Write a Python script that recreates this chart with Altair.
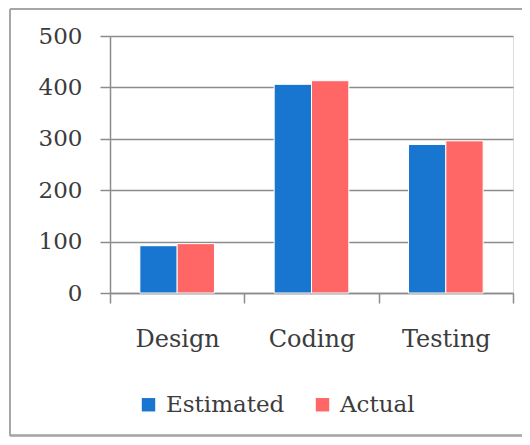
import altair as alt
import pandas as pd

phases = ["Design", "Coding", "Testing"]
series = ["Estimated", "Actual"]
estimated = [92, 406, 289]
actual = [96, 413, 296]
colors = ["#1976D0", "#FF6666"]

rows = []
for i, p in enumerate(phases):
    rows.append({"phase": p, "series": "Estimated", "value": estimated[i]})
    rows.append({"phase": p, "series": "Actual", "value": actual[i]})
df = pd.DataFrame(rows)

FONT = "DejaVu Serif"
GRID = "#8c8c8c"
TXT = "#3c3c3c"
FRAME = "#a6a6a6"

bars = alt.Chart(df).mark_bar(stroke="white", strokeWidth=1).encode(
    x=alt.X("phase:N", sort=phases, title=None,
            scale=alt.Scale(paddingInner=0, paddingOuter=0),
            axis=alt.Axis(labelAngle=0, tickBand="extent", tickSize=10,
                          labelPadding=24, labelFontSize=24, labelFont=FONT,
                          labelColor=TXT, domainColor=GRID, tickColor=GRID,
                          domainWidth=1.5, tickWidth=1.5, grid=False)),
    xOffset=alt.XOffset("series:N", sort=series,
                        scale=alt.Scale(paddingInner=0, paddingOuter=0.8)),
    y=alt.Y("value:Q", title=None,
            scale=alt.Scale(domain=[0, 500], nice=False),
            axis=alt.Axis(values=[0, 100, 200, 300, 400, 500], tickSize=10,
                          labelPadding=18, labelFontSize=23, labelFont=FONT,
                          labelColor=TXT, domainColor=GRID, tickColor=GRID,
                          gridColor=GRID, domainWidth=1.5, tickWidth=1.5,
                          gridWidth=1.5, grid=True)),
    color=alt.Color("series:N", sort=series,
                    scale=alt.Scale(domain=series, range=colors),
                    legend=alt.Legend(title=None, orient="none", direction="horizontal",
                                      legendX=27, legendY=357, padding=0,
                                      symbolType="square", symbolSize=180,
                                      symbolStrokeWidth=0, labelOffset=6,
                                      columnPadding=26, labelFontSize=23,
                                      labelFont=FONT, labelColor=TXT)),
)

frame_top = alt.Chart(df).mark_rule(stroke=FRAME, strokeWidth=1.5, clip=False).encode(
    x=alt.value(-100), x2=alt.value(430), y=alt.value(-27)
)
frame_left = alt.Chart(df).mark_rule(stroke=FRAME, strokeWidth=1.5, clip=False).encode(
    x=alt.value(-100), y=alt.value(-27), y2=alt.value(399.5)
)
frame_bottom = alt.Chart(df).mark_rule(stroke=FRAME, strokeWidth=1.5, clip=False).encode(
    x=alt.value(-100), x2=alt.value(430), y=alt.value(399.5)
)

chart = alt.layer(frame_top, frame_left, frame_bottom, bars).properties(
    width=403, height=257,
    autosize=alt.AutoSizeParams(type="none"),
    padding={"left": 102, "top": 28, "right": 9, "bottom": 144},
).configure_view(stroke=None).configure(background="white")

chart.save("out.html", embed_options={"renderer": "svg", "actions": False})
